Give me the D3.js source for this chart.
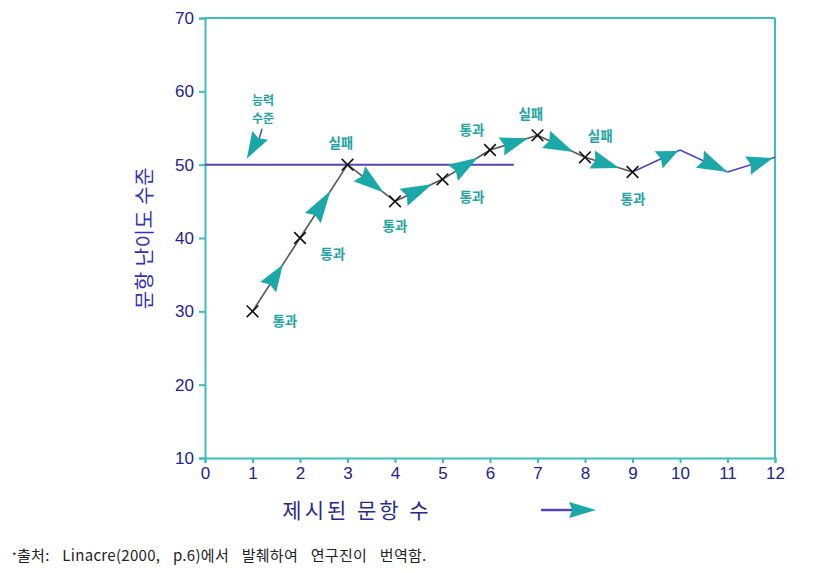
<!DOCTYPE html>
<html><head><meta charset="utf-8">
<script src="https://cdn.jsdelivr.net/npm/d3@7"></script>
<style>body{margin:0;background:#fff}svg{display:block}</style>
</head><body><svg id="c" width="816" height="573"></svg>
<script>
// Data
const items = [1,2,3,4,5,6,7,8,9,10,11,12];
const difficulty = [30,40,50,45,48,52,54,51,49,52,49,51];
const markedCount = 9; // points with an X marker
const abilityLevel = 50;
const abilityLineEnd = 6.5;
const xTicks = [0,1,2,3,4,5,6,7,8,9,10,11,12];
const yTicks = [10,20,30,40,50,60,70];
// arrow span along each segment (start fraction, tip fraction)
const arrowFrom = [0.33,0.27,0.25,0.18,0.22,0.24,0.18,0.15,0.55,0.42,0.43];
const arrowTo   = [0.64,0.64,0.76,0.78,0.74,0.8,0.76,0.72,0.96,1.0,0.96];
const labels = [
  {t:"통과", x:1.68, y:28.0}, {t:"통과", x:2.69, y:37.1}, {t:"실패", x:2.86, y:52.3},
  {t:"통과", x:4.0, y:41.0}, {t:"통과", x:5.62, y:44.9}, {t:"통과", x:5.62, y:54.05},
  {t:"실패", x:6.86, y:56.2}, {t:"실패", x:8.32, y:53.2}, {t:"통과", x:9.01, y:44.6}
];
const abilityLabel = ["능력","수준"];

const svg = d3.select("#c");
const x = d3.scaleLinear().domain([0,12]).range([205,775]);
const y = d3.scaleLinear().domain([10,70]).range([458,18]);
const teal = "#3dbdbd", navy = "#23238f", arrowC = "#1aa8a8", labC = "#22a3a3", purple = "#5046b8";

// frame
svg.append("line").attr("x1",x(0)).attr("x2",x(12)).attr("y1",y(70)).attr("y2",y(70)).attr("stroke",teal).attr("stroke-width",2);
svg.append("line").attr("x1",x(12)).attr("x2",x(12)).attr("y1",y(70)).attr("y2",y(10)).attr("stroke",teal).attr("stroke-width",2);

const yAx = svg.append("g").attr("transform",`translate(${x(0)},0)`)
  .call(d3.axisLeft(y).tickValues(yTicks).tickSize(6).tickPadding(5));
const xAx = svg.append("g").attr("transform",`translate(0,${y(10)})`)
  .call(d3.axisBottom(x).tickValues(xTicks).tickSize(5).tickPadding(4));
[yAx,xAx].forEach(g=>{
  g.select(".domain").attr("stroke",teal).attr("stroke-width",2);
  g.selectAll(".tick line").attr("stroke",teal).attr("stroke-width",2);
  g.selectAll("text").attr("fill",navy).attr("font-family","Liberation Sans, Arial, sans-serif").attr("font-size",17);
});

// ability line
svg.append("line").attr("x1",x(0)).attr("x2",x(abilityLineEnd)).attr("y1",y(abilityLevel)).attr("y2",y(abilityLevel))
  .attr("stroke",purple).attr("stroke-width",2);

// path segments
const pts = items.map((d,i)=>[x(d),y(difficulty[i])]);
for(let i=0;i<pts.length-1;i++){
  svg.append("line").attr("x1",pts[i][0]).attr("y1",pts[i][1]).attr("x2",pts[i+1][0]).attr("y2",pts[i+1][1])
    .attr("stroke", i < markedCount-1 ? "#555" : purple).attr("stroke-width",1.6);
}

function arrow(x0,y0,x1,y1,hw){
  const dx=x1-x0, dy=y1-y0, L=Math.hypot(dx,dy), ux=dx/L, uy=dy/L, nx=-uy, ny=ux;
  const notch=0.12*L;
  const p=[[x1,y1],[x0+nx*hw,y0+ny*hw],[x0+ux*notch,y0+uy*notch],[x0-nx*hw,y0-ny*hw]];
  svg.append("path").attr("d","M"+p.map(q=>q.join(",")).join("L")+"Z").attr("fill",arrowC);
}
for(let i=0;i<pts.length-1;i++){
  const a=pts[i], b=pts[i+1];
  const s=[a[0]+(b[0]-a[0])*arrowFrom[i], a[1]+(b[1]-a[1])*arrowFrom[i]];
  const t=[a[0]+(b[0]-a[0])*arrowTo[i], a[1]+(b[1]-a[1])*arrowTo[i]];
  arrow(s[0],s[1],t[0],t[1],9.5);
}

// markers
const cross = d3.symbol().type(d3.symbolX).size(90);
svg.selectAll(".m").data(pts.slice(0,markedCount)).join("path")
  .attr("transform",d=>`translate(${d[0]},${d[1]})`).attr("d",cross)
  .attr("fill","none").attr("stroke","#111").attr("stroke-width",1.6);

// labels
const fam = "'Noto Sans CJK KR', sans-serif";
svg.selectAll(".lab").data(labels).join("text")
  .attr("x",d=>x(d.x)).attr("y",d=>y(d.y)).attr("text-anchor","middle")
  .attr("font-family",fam).attr("font-size",13.5).attr("font-weight",700).attr("fill",labC).text(d=>d.t);

// ability level annotation
svg.selectAll(".ab").data(abilityLabel).join("text")
  .attr("x",x(1.22)).attr("y",(d,i)=>y(58.1) + i*18).attr("text-anchor","middle")
  .attr("font-family",fam).attr("font-size",12).attr("font-weight",700).attr("fill",labC).text(d=>d);
svg.append("line").attr("x1",x(1.2)).attr("y1",y(54.9)).attr("x2",x(1.13)).attr("y2",y(53.3)).attr("stroke",purple).attr("stroke-width",1.5);
arrow(x(1.16),y(54.0),x(0.88),y(50.8),9);

// axis titles
svg.append("text").attr("transform",`translate(152,${y(40)}) rotate(-90)`).attr("text-anchor","middle")
  .attr("font-family",fam).attr("font-size",20).attr("letter-spacing",0.5).attr("fill","#3232b4").text("문항 난이도 수준");
svg.append("text").attr("x",357).attr("y",518).attr("text-anchor","middle")
  .attr("font-family",fam).attr("font-size",21).attr("letter-spacing",3).attr("fill","#2a2a8a").text("제시된 문항 수");
svg.append("line").attr("x1",541).attr("x2",572).attr("y1",510).attr("y2",510).attr("stroke",purple).attr("stroke-width",2.5);
arrow(569,510,596,510,8);

// footnote
const fn = svg.append("text").attr("x",12).attr("y",561).attr("font-family","'Noto Sans CJK KR', sans-serif").attr("font-size",15).attr("word-spacing",9).attr("letter-spacing",0.3).attr("fill","#222");
fn.append("tspan").attr("font-size",10).attr("dy",-1).text("*");
fn.append("tspan").attr("dy",1).text("출처: Linacre(2000, p.6)에서 발췌하여 연구진이 번역함.");
</script></body></html>
